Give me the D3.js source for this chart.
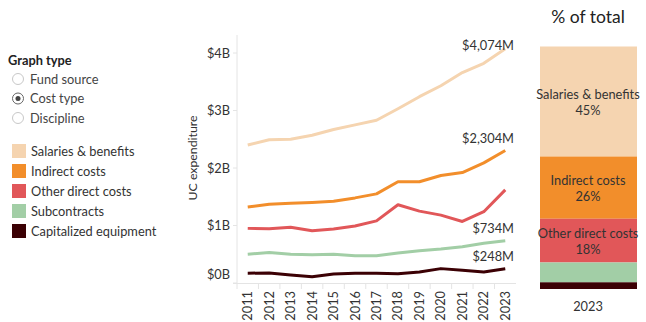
<!DOCTYPE html>
<html>
<head>
<meta charset="utf-8">
<style>
  body { margin: 0; background: #fff; font-family: Lato, "Noto Sans", sans-serif; }
</style>
</head>
<body>
<div id="chart"></div>
<script src="https://d3js.org/d3.v7.min.js"></script>
<script>
    // data (values in $B)
    var years = [2011, 2012, 2013, 2014, 2015, 2016, 2017, 2018, 2019, 2020, 2021, 2022, 2023];
    var categories = ["Salaries & benefits", "Indirect costs", "Other direct costs", "Subcontracts", "Capitalized equipment"];
    var colors = ["#f5d4b0", "#f28e2b", "#e15759", "#a2cea6", "#3b0004"];
    var salaries = [2.40, 2.49, 2.50, 2.57, 2.67, 2.75, 2.83, 3.03, 3.24, 3.43, 3.66, 3.82, 4.074];
    var indirect = [1.32, 1.37, 1.385, 1.40, 1.42, 1.48, 1.55, 1.76, 1.76, 1.87, 1.92, 2.09, 2.304];
    var otherDirect = [0.95, 0.945, 0.97, 0.91, 0.94, 0.99, 1.08, 1.36, 1.25, 1.18, 1.07, 1.24, 1.62];
    var subcontracts = [0.50, 0.53, 0.50, 0.49, 0.50, 0.475, 0.475, 0.52, 0.56, 0.59, 0.63, 0.69, 0.734];
    var capEquip = [0.17, 0.175, 0.14, 0.11, 0.155, 0.17, 0.17, 0.16, 0.19, 0.25, 0.22, 0.19, 0.248];
    var endLabels = ["$4,074M", "$2,304M", "", "$734M", "$248M"];
    var yTicks = [0, 1, 2, 3, 4];
    var graphTypes = ["Fund source", "Cost type", "Discipline"];

    var series = [salaries, indirect, otherDirect, subcontracts, capEquip];

    var width = 646, height = 322;
    var svg = d3.select("#chart").append("svg")
        .attr("width", width)
        .attr("height", height);

    var textColor = "#333";
    var fs = 12.8;

    // ---- left controls ----
    svg.append("text")
        .attr("x", 8).attr("y", 65)
        .attr("font-size", fs).attr("font-weight", "bold")
        .attr("fill", "#222")
        .text("Graph type");

    var radio = svg.append("g").selectAll("g")
        .data(graphTypes)
        .enter().append("g")
        .attr("transform", function(d, i) { return "translate(18," + (79 + i * 19.5) + ")"; });
    radio.append("circle")
        .attr("r", 5.5)
        .attr("fill", "#fff")
        .attr("stroke", function(d) { return d === "Cost type" ? "#666" : "#c8c8c8"; });
    radio.filter(function(d) { return d === "Cost type"; })
        .append("circle").attr("r", 2.5).attr("fill", "#444");
    radio.append("text")
        .attr("x", 12).attr("y", 4.5)
        .attr("font-size", fs)
        .attr("fill", "#444")
        .text(function(d) { return d; });

    var legend = svg.append("g").selectAll("g")
        .data(categories)
        .enter().append("g")
        .attr("transform", function(d, i) { return "translate(12," + (144 + i * 20) + ")"; });
    legend.append("rect")
        .attr("width", 14).attr("height", 14)
        .attr("fill", function(d, i) { return colors[i]; });
    legend.append("text")
        .attr("x", 19).attr("y", 11.5)
        .attr("font-size", fs)
        .attr("fill", textColor)
        .text(function(d) { return d; });

    // ---- line chart ----
    var x = d3.scaleBand().domain(years).range([237, 516]);
    var y = d3.scaleLinear().domain([0, 4]).range([283, 53]);

    var axisColor = "#e4e4e4";

    var g = svg.append("g");

    g.append("line")
        .attr("x1", 237).attr("x2", 237)
        .attr("y1", 35).attr("y2", 283)
        .attr("stroke", axisColor);
    g.append("line")
        .attr("x1", 233).attr("x2", 516)
        .attr("y1", 283.5).attr("y2", 283.5)
        .attr("stroke", axisColor);

    // y ticks
    g.selectAll(".ytick")
        .data(yTicks)
        .enter().append("line")
        .attr("x1", 233).attr("x2", 237)
        .attr("y1", function(d) { return y(d); })
        .attr("y2", function(d) { return y(d); })
        .attr("stroke", axisColor);
    g.selectAll(".ylab")
        .data(yTicks)
        .enter().append("text")
        .attr("x", 230)
        .attr("y", function(d) { return Math.min(y(d), 274) + 4.5; })
        .attr("text-anchor", "end")
        .attr("font-size", fs)
        .attr("fill", textColor)
        .text(function(d) { return "$" + d + "B"; });

    svg.append("text")
        .attr("transform", "translate(197,158) rotate(-90)")
        .attr("text-anchor", "middle")
        .attr("font-size", 12.3)
        .attr("fill", textColor)
        .text("UC expenditure");

    // x ticks (band boundaries)
    g.selectAll(".xtick")
        .data(years)
        .enter().append("line")
        .attr("x1", function(d) { return x(d); })
        .attr("x2", function(d) { return x(d); })
        .attr("y1", 283).attr("y2", 289)
        .attr("stroke", axisColor);
    g.selectAll(".xlab")
        .data(years)
        .enter().append("text")
        .attr("transform", function(d) {
            return "translate(" + (x(d) + x.bandwidth() / 2 + 4.5) + ",291) rotate(-90)";
        })
        .attr("text-anchor", "end")
        .attr("font-size", fs)
        .attr("fill", textColor)
        .text(function(d) { return d; });

    var line = d3.line()
        .x(function(d, i) { return x(years[i]) + x.bandwidth() / 2; })
        .y(function(d) { return y(d); });

    g.selectAll(".series")
        .data(series.slice().reverse())
        .enter().append("path")
        .attr("fill", "none")
        .attr("stroke", function(d, i) { return colors[series.length - 1 - i]; })
        .attr("stroke-width", 3)
        .attr("stroke-linejoin", "round")
        .attr("d", line);

    g.selectAll(".endlab")
        .data(series)
        .enter().append("text")
        .attr("x", 514)
        .attr("y", function(d) { return Math.max(y(d[d.length - 1]) - 8, 50); })
        .attr("text-anchor", "end")
        .attr("font-size", fs)
        .attr("fill", textColor)
        .text(function(d, i) { return endLabels[i]; });

    // ---- % of total bar ----
    var last = series.map(function(s) { return s[s.length - 1]; });
    var total = d3.sum(last);
    var stack = [];
    var acc = 0;
    last.forEach(function(v, i) {
        stack.push({ name: categories[i], v0: acc, v1: acc + v / total, share: v / total, color: colors[i] });
        acc += v / total;
    });

    var yb = d3.scaleLinear().domain([0, 1]).range([46.5, 289]);
    var bx0 = 540, bx1 = 637;

    svg.append("text")
        .attr("x", 588).attr("y", 23)
        .attr("text-anchor", "middle")
        .attr("font-size", 17.5)
        .attr("fill", "#222")
        .text("% of total");

    var bars = svg.append("g").selectAll("g")
        .data(stack)
        .enter().append("g");
    bars.append("rect")
        .attr("x", bx0)
        .attr("width", bx1 - bx0)
        .attr("y", function(d) { return yb(d.v0); })
        .attr("height", function(d) { return yb(d.v1) - yb(d.v0); })
        .attr("fill", function(d) { return d.color; });
    var lab = bars.filter(function(d) { return d.share > 0.1; })
        .append("text")
        .attr("text-anchor", "middle")
        .attr("font-size", fs)
        .attr("fill", "#333");
    lab.append("tspan")
        .attr("x", 588)
        .attr("y", function(d) { return (yb(d.v0) + yb(d.v1)) / 2 - 3; })
        .text(function(d) { return d.name; });
    lab.append("tspan")
        .attr("x", 588)
        .attr("y", function(d) { return (yb(d.v0) + yb(d.v1)) / 2 + 13; })
        .text(function(d) { return Math.round(d.share * 100) + "%"; });

    svg.append("text")
        .attr("x", 588).attr("y", 311)
        .attr("text-anchor", "middle")
        .attr("font-size", fs)
        .attr("fill", textColor)
        .text("2023");
</script>
</body>
</html>
